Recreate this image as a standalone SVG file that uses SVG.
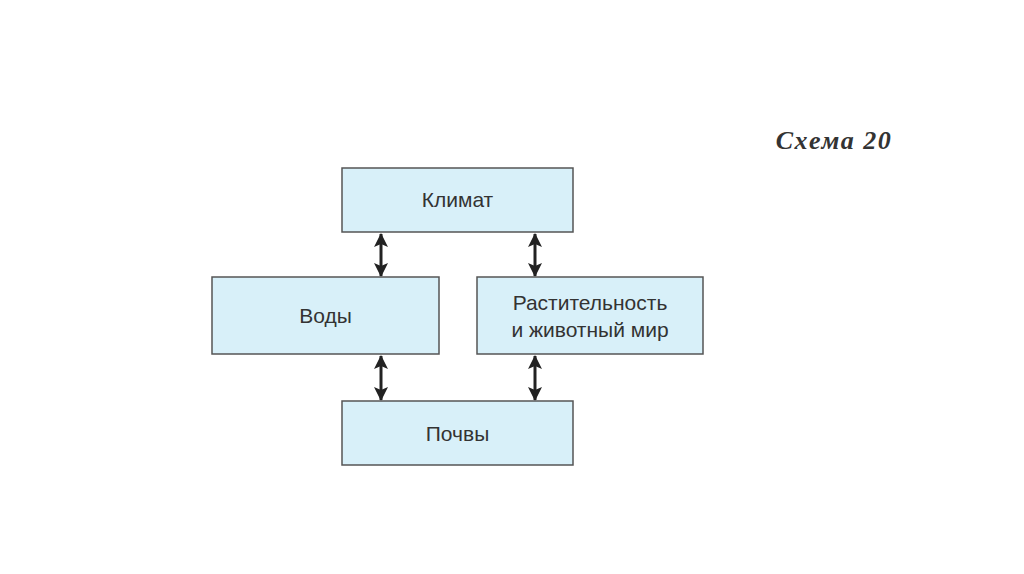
<svg xmlns="http://www.w3.org/2000/svg" width="1024" height="574" viewBox="0 0 1024 574">
<style>
.box{fill:#d8f0f9;stroke:#555;stroke-width:1.5}
.lbl{font-family:"Liberation Sans",Arial,sans-serif;font-size:21px;fill:#333;text-anchor:middle}
.con{stroke:#222;stroke-width:3;fill:none;marker-start:url(#ah);marker-end:url(#ah)}
</style>
<defs>
<marker id="ah" viewBox="0 0 14 14" refX="13" refY="7" markerWidth="14" markerHeight="14" markerUnits="userSpaceOnUse" orient="auto-start-reverse">
<path d="M0,0 L14,7 L0,14 L3,7 Z" fill="#222"/>
</marker>
</defs>
<rect width="1024" height="574" fill="#fff"/>
<text x="834" y="149" font-family="'Liberation Serif','DejaVu Serif',serif" font-style="italic" font-weight="bold" font-size="26" fill="#333" text-anchor="middle" letter-spacing="1.5">Схема 20</text>
<g id="connectors">
<line class="con" x1="381" y1="234" x2="381" y2="276"/>
<line class="con" x1="535" y1="234" x2="535" y2="276"/>
<line class="con" x1="381" y1="356" x2="381" y2="400"/>
<line class="con" x1="535" y1="356" x2="535" y2="400"/>
</g>
<g id="klimat">
<rect class="box" x="342" y="168" width="231" height="64"/>
<text class="lbl" x="457.5" y="207">Климат</text>
</g>
<g id="vody">
<rect class="box" x="212" y="277" width="227" height="77"/>
<text class="lbl" x="325.5" y="323">Воды</text>
</g>
<g id="rast">
<rect class="box" x="477" y="277" width="226" height="77"/>
<text class="lbl" x="590" y="310">Растительность</text>
<text class="lbl" x="590" y="337">и животный мир</text>
</g>
<g id="pochvy">
<rect class="box" x="342" y="401" width="231" height="64"/>
<text class="lbl" x="457.5" y="441">Почвы</text>
</g>
</svg>
